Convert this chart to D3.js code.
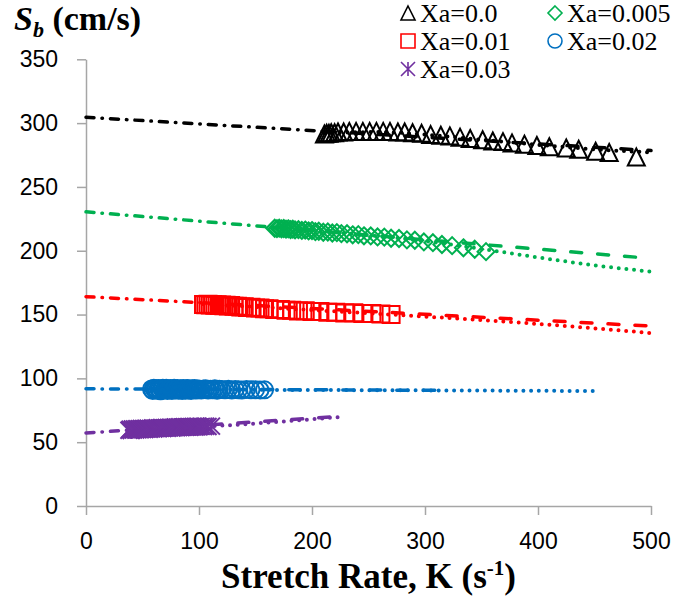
<!DOCTYPE html>
<html>
<head>
<meta charset="utf-8">
<script src="https://cdn.jsdelivr.net/npm/d3@7"></script>
<style>
  body { margin: 0; background: #fff; }
  svg { display: block; }
</style>
</head>
<body>
<div class="canvas"></div>
<script>
// ---- Data ----
// Stretch rate K (1/s) and burning velocity Sb (cm/s) for each Xa

// Xa = 0.0 (triangles)
const k00 = [211, 213, 215, 217, 220, 223, 228, 233, 239, 245, 251, 257, 263, 269, 276, 282, 289, 297,
  305, 314, 322, 331, 340, 351, 360, 369, 377, 388, 399, 410, 425, 436, 451, 463, 487];
const s00 = [291.5, 292, 292, 292.5, 292.5, 293, 293, 293.5, 293.5, 293.5, 293.5, 293.5, 293.5, 293.5, 293, 293, 292.5, 292,
  291, 290.5, 290, 289, 288, 287, 286, 285.5, 284.5, 283.5, 282.5, 281.5, 280.5, 279.5, 278, 277, 273.5];

// Xa = 0.005 (diamonds)
const k005 = [167, 169, 171, 173, 175, 177, 179, 181, 183, 185, 188, 191, 194, 197, 200, 203, 206, 210, 214, 218,
  222, 226, 231, 236, 241, 246, 252, 258, 264, 270, 277, 284, 291, 299, 307, 315, 324, 334, 344, 354];
const s005 = [217.6, 217.3, 217.7, 217.1, 217.4, 216.9, 217.2, 216.6, 216.9, 216.3, 216.5, 215.9, 216.2, 215.5, 215.8, 215.0, 215.3, 214.5, 214.7, 213.9,
  214.2, 213.4, 213.3, 212.5, 212.6, 211.7, 211.6, 210.8, 210.7, 209.8, 209.6, 208.5, 208.2, 206.9, 206.3, 204.9, 204.0, 202.3, 201.2, 199.3];

// Xa = 0.01 (squares)
const k01 = [104, 106, 108, 110, 112, 114, 116, 118, 120, 122, 124, 126, 128, 131, 134, 137, 140, 143, 146, 150,
  154, 158, 162, 167, 172, 177, 182, 188, 194, 200, 207, 214, 221, 229, 237, 245, 253, 261, 270];
const s01 = [157.9, 157.6, 158.0, 157.5, 157.8, 157.3, 157.6, 157.1, 157.4, 156.9, 157.2, 156.7, 157.0, 156.5, 156.6, 156.0, 156.2, 155.6, 155.7, 155.1,
  155.2, 154.6, 154.6, 154.0, 154.0, 153.4, 153.4, 152.8, 152.9, 152.3, 152.4, 151.8, 151.9, 151.3, 151.4, 150.9, 150.9, 150.4, 150.0];

// Xa = 0.02 (circles)
const k02 = [58, 59, 60, 61, 62, 63, 64, 65, 66, 67, 68, 69, 70, 71, 72, 73, 74, 75, 76, 77, 78, 79, 80,
  81, 82, 83, 84, 85, 86, 87, 88, 89, 90, 91, 92, 93, 94, 95, 96, 97, 98, 99, 100,
  102, 104, 106, 108, 110, 112, 114, 116, 118, 120,
  123, 126, 129, 132, 135, 138, 142, 146, 150, 154, 158];
const s02 = [91.6, 90.4, 92.3, 91.0, 91.9, 90.6, 92.1, 91.3, 90.3, 91.8, 92.2, 90.9, 91.5, 92.3, 90.5, 91.7, 91.1, 92.0, 90.4, 91.4,
  92.2, 90.8, 91.6, 92.1, 90.6, 91.2, 91.9, 90.5, 92.0, 91.3, 90.7, 91.8, 92.1, 90.9, 91.5, 90.4, 91.9, 91.2, 92.0, 90.8,
  91.6, 91.0, 91.7,
  90.8, 91.6, 91.9, 90.9, 91.4, 91.1, 91.8, 90.7, 91.5, 91.2,
  91.0, 91.4, 90.9, 91.3, 91.1, 90.9, 91.2, 91.0, 91.1, 90.9, 91.0];

// Xa = 0.03 (asterisks)
const k03 = [38, 39, 40, 41, 42, 43, 44, 45, 46, 47, 48, 49, 50, 51, 52, 53, 54, 55, 56, 57, 58, 59, 60, 61, 62, 63, 64,
  65, 66, 67, 68, 69, 70, 71, 72, 73, 74, 75, 76, 77, 78, 79, 80, 81, 82, 83, 84, 85, 86, 87, 88, 89, 90, 91, 92, 93,
  94, 95, 96, 97, 98, 99, 100, 102, 104, 106, 108, 111];
const s03 = [59.4, 60.1, 59.2, 60.3, 59.6, 60.4, 59.5, 60.6, 59.8, 60.5, 59.7, 60.8, 60.0, 60.7, 59.9, 60.9, 60.2, 61.0, 60.1, 60.8,
  60.4, 61.2, 60.3, 61.0, 60.6, 61.3, 60.5, 61.2, 60.8, 61.5, 60.7, 61.3, 61.0, 61.6, 60.9, 61.5, 61.2, 61.8, 61.1, 61.6,
  61.4, 62.0, 61.3, 61.8, 61.5, 62.1, 61.4, 61.9, 61.7, 62.2, 61.6, 62.1, 61.8, 62.3, 61.7, 62.2, 62.0, 62.4, 61.9, 62.3,
  62.1, 62.5, 62.0, 62.4, 62.2, 62.5, 62.3, 62.6];

// Fits as [K, Sb] points: extrapolation to K=0 (dash-dot), linear fit (long dash), nonlinear fit (dots)
const extrap00 = [[0, 304.6], [211, 293.6]];
const linear00 = [[211, 293.6], [500, 278.5]];
const curve00 = [[211, 292], [260, 293], [300, 291], [350, 287], [400, 283], [450, 279.5], [500, 277]];

const extrap005 = [[0, 230.5], [167, 218.3]];
const linear005 = [[167, 218.3], [500, 194]];
const curve005 = [[167, 218], [220, 214.5], [265, 211], [300, 207.5], [330, 204], [366, 199.3], [410, 193.5], [451, 188.5], [500, 183.6]];

const extrap01 = [[0, 164], [104, 159.2]];
const linear01 = [[104, 159.2], [500, 141]];
const curve01 = [[104, 158], [150, 156], [200, 153.5], [270, 150], [326, 147], [401, 142.6], [450, 139.2], [500, 135.5]];

const extrap02 = [[0, 91.8], [60, 91.6]];
const linear02 = [[60, 91.6], [320, 90.6]];
const curve02 = [[60, 91.4], [160, 91], [300, 90.6], [450, 90.1]];

const extrap03 = [[0, 57.2], [39, 59.5]];
const linear03 = [[39, 59.5], [226, 70.3]];
const curve03 = [[39, 59.6], [111, 62.5], [226, 69.8]];

const xTicks = [0, 100, 200, 300, 400, 500];
const yTicks = [0, 50, 100, 150, 200, 250, 300, 350];

const series = [
  { name: "Xa=0.0", color: "#000000", shape: "triangle", k: k00, s: s00, extrap: extrap00, linear: linear00, curve: curve00 },
  { name: "Xa=0.005", color: "#00B050", shape: "diamond", k: k005, s: s005, extrap: extrap005, linear: linear005, curve: curve005 },
  { name: "Xa=0.01", color: "#FF0000", shape: "square", k: k01, s: s01, extrap: extrap01, linear: linear01, curve: curve01 },
  { name: "Xa=0.02", color: "#0070C0", shape: "circle", k: k02, s: s02, extrap: extrap02, linear: linear02, curve: curve02 },
  { name: "Xa=0.03", color: "#7030A0", shape: "asterisk", k: k03, s: s03, extrap: extrap03, linear: linear03, curve: curve03 }
];

// ---- Setup ----
const width = 678;
const height = 598;
const svg = d3.select(".canvas")
  .append("svg")
  .attr("width", width)
  .attr("height", height);

const x = d3.scaleLinear().domain([0, 500]).range([86, 651]);
const y = d3.scaleLinear().domain([0, 350]).range([506, 59.3]);

const axisColour = "#A6A6A6";
const tickFont = "'Liberation Sans', Arial, sans-serif";
const serif = "'Liberation Serif', 'Times New Roman', serif";

// Axes
const xAxisGroup = svg.append("g")
  .attr("transform", `translate(0, ${y(0)})`)
  .call(d3.axisBottom(x).tickValues(xTicks).tickSizeInner(9).tickSizeOuter(0).tickPadding(18));
const yAxisGroup = svg.append("g")
  .attr("transform", `translate(${x(0)}, 0)`)
  .call(d3.axisLeft(y).tickValues(yTicks).tickSizeInner(9).tickSizeOuter(0).tickPadding(19));

[xAxisGroup, yAxisGroup].forEach(g => {
  g.select(".domain").attr("stroke", axisColour).attr("stroke-width", 1.5);
  g.selectAll(".tick line").attr("stroke", axisColour).attr("stroke-width", 1.5);
  g.selectAll(".tick text")
    .attr("fill", "#000")
    .style("font-family", tickFont)
    .style("font-size", "23px");
});

// ---- Lines ----
const line = d3.line().x(d => x(d[0])).y(d => y(d[1]));
const smoothLine = d3.line().curve(d3.curveMonotoneX).x(d => x(d[0])).y(d => y(d[1]));

const plot = svg.append("g");
series.forEach(sr => {
  // dash-dot extrapolation back to K = 0
  plot.append("path")
    .attr("d", line(sr.extrap))
    .attr("fill", "none")
    .attr("stroke", sr.color)
    .attr("stroke-width", 3.5)
    .attr("stroke-linecap", "round")
    .attr("stroke-dasharray", "8,8,0.5,8");
  // long-dash linear fit
  plot.append("path")
    .attr("d", line(sr.linear))
    .attr("fill", "none")
    .attr("stroke", sr.color)
    .attr("stroke-width", 3.5)
    .attr("stroke-linecap", "round")
    .attr("stroke-dasharray", "11,16");
  // round-dot nonlinear fit
  plot.append("path")
    .attr("d", smoothLine(sr.curve))
    .attr("fill", "none")
    .attr("stroke", sr.color)
    .attr("stroke-width", 4)
    .attr("stroke-linecap", "round")
    .attr("stroke-dasharray", "0,7.7");
});

// ---- Markers ----
const markerPath = (shape, sz) => {
  const h = sz / 2;
  switch (shape) {
    case "triangle":
      return `M0,${-h}L${h},${h}L${-h},${h}Z`;
    case "diamond":
      return `M0,${-h}L${h},0L0,${h}L${-h},0Z`;
    case "square":
      return `M${-h},${-h}H${h}V${h}H${-h}Z`;
    case "circle":
      return `M${h},0A${h},${h},0,1,1,${-h},0A${h},${h},0,1,1,${h},0Z`;
    case "asterisk":
      return `M${-h},${-h}L${h},${h}M${h},${-h}L${-h},${h}M0,${-h}L0,${h}`;
    default:
      return "";
  }
};

series.forEach(sr => {
  plot.append("g")
    .selectAll("path")
    .data(sr.k.map((k, i) => [k, sr.s[i]]))
    .enter()
    .append("path")
    .attr("transform", d => `translate(${x(d[0])}, ${y(d[1])})`)
    .attr("d", markerPath(sr.shape, 17))
    .attr("fill", "none")
    .attr("stroke", sr.color)
    .attr("stroke-width", 2);
});

// ---- Legend ----
const legendPos = [[408, 13], [555, 13], [408, 41], [555, 41], [408, 69]];
const legend = svg.append("g");
series.forEach((sr, i) => {
  const [lx, ly] = legendPos[i];
  legend.append("path")
    .attr("transform", `translate(${lx}, ${ly})`)
    .attr("d", markerPath(sr.shape, 14))
    .attr("fill", "none")
    .attr("stroke", sr.color)
    .attr("stroke-width", 1.6);
  legend.append("text")
    .attr("x", lx + 12)
    .attr("y", ly + 9)
    .style("font-family", serif)
    .style("font-size", "26px")
    .text(sr.name);
});

// ---- Titles ----
const yTitle = svg.append("text")
  .attr("x", 14)
  .attr("y", 30)
  .style("font-family", serif)
  .style("font-size", "34px")
  .style("font-weight", "bold");
yTitle.append("tspan").style("font-style", "italic").text("S");
yTitle.append("tspan").style("font-style", "italic").style("font-size", "22px").attr("dy", 7).text("b");
yTitle.append("tspan").attr("dy", -7).text(" (cm/s)");

const xTitle = svg.append("text")
  .attr("x", (x(0) + x(500)) / 2)
  .attr("y", 588)
  .attr("text-anchor", "middle")
  .style("font-family", serif)
  .style("font-size", "35px")
  .style("font-weight", "bold");
xTitle.append("tspan").text("Stretch Rate, K (s");
xTitle.append("tspan").style("font-size", "21px").attr("dy", -13).text("-1");
xTitle.append("tspan").attr("dy", 13).text(")");
</script>
</body>
</html>
